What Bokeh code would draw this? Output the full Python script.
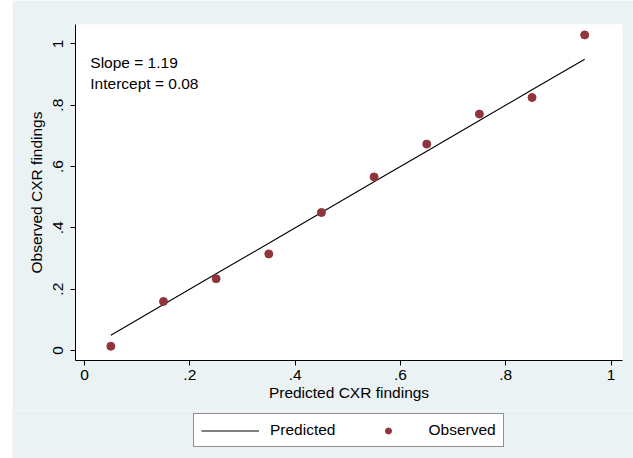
from bokeh.plotting import figure
from bokeh.models import Legend, LegendItem, Label, Range1d, FixedTicker, Spacer
from bokeh.layouts import row, column
from bokeh.embed import file_html
from bokeh.resources import INLINE

predicted = [0.05, 0.15, 0.25, 0.35, 0.45, 0.55, 0.65, 0.75, 0.85, 0.95]
observed = [0.014, 0.160, 0.234, 0.315, 0.450, 0.566, 0.673, 0.771, 0.825, 1.029]
x_ticks = [0, 0.2, 0.4, 0.6, 0.8, 1]
x_tick_labels = {0: "0", 0.2: ".2", 0.4: ".4", 0.6: ".6", 0.8: ".8", 1: "1"}
y_ticks = [0, 0.2, 0.4, 0.6, 0.8, 1]
y_tick_labels = {0: "0", 0.2: ".2", 0.4: ".4", 0.6: ".6", 0.8: ".8", 1: "1"}
annotations = ["Slope = 1.19", "Intercept = 0.08"]
series_names = ["Predicted", "Observed"]

FONT = "Liberation Sans"
FS = "15.5px"
BG = "#EAF2F3"
DOT = "#90353B"

p = figure(width=621, height=410, output_backend="svg", toolbar_location=None,
           x_range=Range1d(-0.0171, 1.0218), y_range=Range1d(-0.0326, 1.063),
           min_border_left=63, min_border_top=24, min_border_right=11,
           min_border_bottom=50)
p.border_fill_color = BG
p.background_fill_color = "white"
p.outline_line_color = None
p.grid.visible = False

for ax in (p.xaxis[0], p.yaxis[0]):
    ax.axis_line_color = "black"
    ax.major_tick_line_color = "black"
    ax.minor_tick_line_color = None
    ax.major_tick_in = 0
    ax.major_tick_out = 5
    ax.major_label_text_font = FONT
    ax.major_label_text_font_size = FS
    ax.major_label_text_color = "black"
    ax.axis_label_text_font = FONT
    ax.axis_label_text_font_size = FS
    ax.axis_label_text_font_style = "normal"
    ax.axis_label_text_color = "black"

p.xaxis.ticker = FixedTicker(ticks=x_ticks)
p.xaxis.major_label_overrides = x_tick_labels
p.xaxis.axis_label = "Predicted CXR findings"
p.xaxis.major_label_standoff = 4
p.xaxis.axis_label_standoff = 1

p.yaxis.ticker = FixedTicker(ticks=y_ticks)
p.yaxis.major_label_overrides = y_tick_labels
p.yaxis.axis_label = "Observed CXR findings"
p.yaxis.major_label_orientation = "vertical"
p.yaxis.major_label_standoff = 7
p.yaxis.axis_label_standoff = 6

p.line(predicted, predicted, line_color="black", line_width=1.1)
p.scatter(predicted, observed, size=8, fill_color=DOT, line_color=DOT)

p.add_layout(Label(x=0.011, y=0.94, text=annotations[0], text_font=FONT,
                   text_font_size=FS, text_baseline="middle", text_color="black"))
p.add_layout(Label(x=0.011, y=0.87, text=annotations[1], text_font=FONT,
                   text_font_size=FS, text_baseline="middle", text_color="black"))

# legend strip below the plot (its glyphs sit outside the visible range)
lg = figure(width=621, height=48, output_backend="svg", toolbar_location=None,
            x_range=Range1d(5, 6), y_range=Range1d(5, 6),
            min_border_left=0, min_border_right=0, min_border_top=0,
            min_border_bottom=0)
lg.axis.visible = False
lg.grid.visible = False
lg.outline_line_color = None
lg.background_fill_color = BG
lg.border_fill_color = BG
lg_line = lg.line(predicted, predicted, line_color="black", line_width=1.1)
lg_dot = lg.scatter(predicted, observed, size=8, fill_color=DOT, line_color=DOT)

legend = Legend(items=[LegendItem(label=series_names[0], renderers=[lg_line]),
                       LegendItem(label=series_names[1], renderers=[lg_dot])],
                orientation="horizontal", location=(181, 11),
                glyph_width=58, glyph_height=15, label_standoff=11, spacing=24,
                padding=7, margin=0,
                label_text_font=FONT, label_text_font_size=FS,
                label_text_color="black",
                border_line_color="#222222", border_line_width=1,
                background_fill_color="white", background_fill_alpha=1)
lg.add_layout(legend)

layout = column(row(Spacer(width=12, height=410), p),
                row(Spacer(width=12, height=48), lg))
open("out.html", "w").write(file_html(layout, INLINE))
